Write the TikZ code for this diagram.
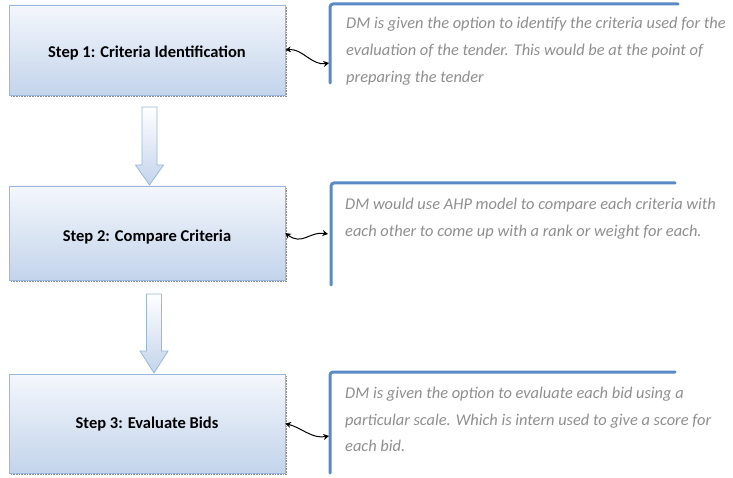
\documentclass[tikz,border=0pt]{standalone}
\usepackage{fontspec}
\setmainfont{Carlito}
\usetikzlibrary{arrows.meta}
\definecolor{boxedge}{HTML}{9AB8DC}
\definecolor{boxtop}{HTML}{F4F7FC}
\definecolor{boxbot}{HTML}{C3D4EB}
\definecolor{calloutline}{HTML}{5A8AC6}
\definecolor{notetext}{HTML}{8E8E8E}
\definecolor{shadowgray}{HTML}{8C8C8C}
% label lowered by #1 below the box centre, taking no height of its own
\newcommand\steplabel[2]{\raisebox{-#1}[0pt][0pt]{#2}}
\begin{document}
\begin{tikzpicture}[x=1pt,y=-1pt,
  stepbox/.style={draw=boxedge, line width=0.8pt, top color=boxtop, bottom color=boxbot,
    minimum width=276pt, inner sep=0pt, font=\bfseries\fontsize{16.5}{18}\selectfont},
  boxshadow/.style={draw=shadowgray, line width=1.6pt, dash pattern=on 0.8pt off 0.8pt},
  flowarrow/.style={draw=boxedge, line width=0.8pt, top color=white, bottom color=boxbot},
  bracket/.style={draw=calloutline, line width=3pt, line cap=round, rounded corners=3pt},
  note/.style={anchor=north west, align=left, inner sep=0pt, text=notetext,
    font=\itshape\fontsize{16.4}{26.5}\selectfont},
  link/.style={{Stealth[length=5.5pt,width=6pt]}-{Stealth[length=5.5pt,width=6pt]},
    line width=1pt, black}]
\useasboundingbox (0,0) rectangle (733,478);

% step boxes with their dotted drop shadows
\foreach \t/\b in {5/95, 186/280, 374/473} {
  \draw[boxshadow] (11,\b+1.5) -- (286.5,\b+1.5) -- (286.5,\t+2);
}
\node[stepbox, minimum height=90pt] (s1) at (147,50) {\steplabel{8pt}{Step 1: Criteria Identification}};
\node[stepbox, minimum height=94pt] (s2) at (147,233) {\steplabel{8.3pt}{Step 2: Compare Criteria}};
\node[stepbox, minimum height=99pt] (s3) at (147,423.5) {\steplabel{5pt}{Step 3: Evaluate Bids}};

% block arrows between the steps
\newcommand\blockarrow[4]{% centre x, top, neck, tip
  \path[flowarrow] (#1-7.5,#2) -- (#1+7.5,#2) -- (#1+7.5,#3) -- (#1+14,#3)
    -- (#1,#4) -- (#1-14,#3) -- (#1-7.5,#3) -- cycle;}
\blockarrow{149.5}{107}{165}{185}
\blockarrow{154}{294}{351}{373}

% callout brackets
\draw[bracket] (330,83) -- (330,4) -- (678,4);
\draw[bracket] (331,285) -- (331,183) -- (675,183);
\draw[bracket] (330,473) -- (330,372) -- (675,372);

% callout texts
\node[note, font=\itshape\fontsize{16.4}{27}\selectfont] (n1) at (346,17)
  {DM is given the option to identify the criteria used for the\\
  evaluation of the tender. This would be at the point of\\ preparing the tender};
\node[note] (n2) at (345,198) {DM would use AHP model to compare each criteria with\\
  each other to come up with a rank or weight for each.};
\node[note] (n3) at (345,387) {DM is given the option to evaluate each bid using a\\
  particular scale. Which is intern used to give a score for\\ each bid.};

% links between steps and callouts
\coordinate (k1) at (329,63);
\coordinate (k2) at (328,234);
\coordinate (k3) at (329,436);
\draw[link] (s1.east) .. controls (302,48) and (312,66) .. (k1);
\draw[link] (s2.east) .. controls (302,246) and (310,231) .. (k2);
\draw[link] (s3.east) .. controls (302,428) and (312,439) .. (k3);
\end{tikzpicture}
\end{document}
